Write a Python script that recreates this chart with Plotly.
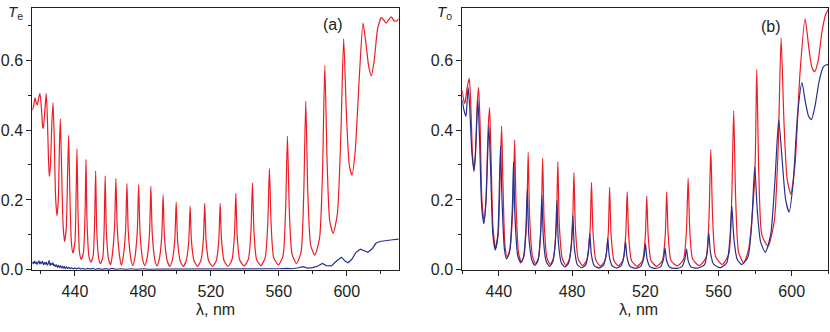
import plotly.graph_objects as go

# ---- panel (a): T_e ----
red_a_lam = [
    414.9, 415.7, 416.5, 417.2, 417.8, 418.6, 419.4, 420.3, 421.0, 421.4, 422.2,
    423.1, 423.8, 424.4, 424.9, 425.6, 426.4,
    427.1, 427.8, 428.6, 429.4, 430.2, 430.9,
    431.4, 432.1, 433.0, 433.9, 434.9, 435.7,
    436.3, 437.0, 437.9, 438.8, 440.0, 440.7,
    441.2, 441.8, 442.7, 443.7, 445.0, 446.0,
    446.5, 447.1, 448.2, 449.4, 450.7, 451.6,
    452.2, 452.8, 453.9, 455.0, 456.4, 457.2,
    457.8, 458.5, 459.8, 461.0, 461.8, 463.3,
    464.1, 464.9, 466.4, 467.4, 468.3, 469.8,
    470.6, 471.4, 472.9, 474.0, 475.2, 476.7,
    477.5, 478.3, 479.8, 481.1, 482.4, 483.9,
    484.7, 485.5, 487.0, 488.3, 489.6, 491.1,
    491.9, 492.7, 494.2, 495.8, 497.3, 498.8,
    499.6, 500.4, 501.9, 503.7, 505.5, 507.0,
    507.8, 508.6, 510.1, 512.1, 514.1, 515.6,
    516.4, 517.2, 518.7, 521.0, 523.2, 524.7,
    525.5, 526.3, 527.8, 530.1, 532.4, 533.9,
    534.7, 535.5, 537.0, 539.6, 542.1, 543.6,
    544.5, 545.4, 546.9, 549.5, 552.0, 553.5,
    554.5, 555.5, 557.0, 559.8, 562.5, 564.0,
    565.1, 566.2, 567.8, 570.4, 573.1, 574.7,
    575.9, 577.1, 578.8, 581.2, 584.0, 585.7,
    587.1, 588.5, 590.0, 592.0, 594.5, 596.5,
    598.2, 599.8, 601.5, 603.1, 605.0, 607.5,
    609.6, 611.5, 613.0, 614.5, 616.2, 618.2,
    620.4, 621.8, 623.2, 624.6, 626.2, 627.8, 629.2, 630.6,
]
red_a_T = [
    0.457, 0.470, 0.492, 0.478, 0.472, 0.490, 0.505, 0.460, 0.410, 0.405, 0.450,
    0.505, 0.430, 0.320, 0.267, 0.300, 0.420,
    0.478, 0.380, 0.210, 0.155, 0.200, 0.360,
    0.432, 0.300, 0.130, 0.081, 0.120, 0.280,
    0.385, 0.220, 0.080, 0.048, 0.080, 0.220,
    0.346, 0.170, 0.050, 0.030, 0.050, 0.170,
    0.316, 0.140, 0.040, 0.022, 0.040, 0.140,
    0.283, 0.120, 0.035, 0.018, 0.035, 0.120,
    0.269, 0.110, 0.030, 0.015, 0.035, 0.120,
    0.261, 0.120, 0.035, 0.013, 0.033, 0.110,
    0.247, 0.110, 0.032, 0.012, 0.032, 0.110,
    0.244, 0.110, 0.031, 0.012, 0.031, 0.105,
    0.239, 0.105, 0.030, 0.011, 0.029, 0.095,
    0.214, 0.095, 0.028, 0.010, 0.027, 0.087,
    0.194, 0.087, 0.026, 0.010, 0.026, 0.082,
    0.182, 0.082, 0.026, 0.010, 0.026, 0.085,
    0.190, 0.085, 0.026, 0.010, 0.026, 0.085,
    0.190, 0.085, 0.026, 0.010, 0.028, 0.098,
    0.218, 0.098, 0.028, 0.011, 0.030, 0.110,
    0.248, 0.110, 0.030, 0.012, 0.035, 0.130,
    0.290, 0.130, 0.035, 0.014, 0.040, 0.170,
    0.383, 0.170, 0.045, 0.018, 0.050, 0.220,
    0.483, 0.220, 0.070, 0.042, 0.090, 0.270,
    0.585, 0.300, 0.140, 0.104, 0.160, 0.380,
    0.662, 0.450, 0.300, 0.271, 0.340, 0.560,
    0.706, 0.640, 0.580, 0.555, 0.600, 0.690,
    0.722, 0.715, 0.706, 0.715, 0.724, 0.713, 0.712, 0.718,
]

blue_a_lam = [
    414.9, 415.5, 416.0, 416.6, 417.1, 417.7, 418.2, 418.8, 419.3, 419.9,
    420.4, 421.0, 421.5, 422.1, 422.6, 423.2, 423.7, 424.3, 424.8, 425.4,
    425.9, 426.5, 427.0, 427.6, 428.1, 428.7, 429.2, 429.8, 430.3, 430.9,
    431.4, 432.0, 432.6, 433.1, 433.7, 434.3, 435.0, 435.7, 436.4, 437.2,
    438.0, 439.0, 440.0, 441.0, 442.2, 443.5, 444.8, 446.0, 447.5, 449.0,
    450.5, 452.0, 454.0, 456.0, 458.0, 460.0, 462.0, 464.0, 467.0, 470.0,
    473.0, 476.0, 480.0, 484.0, 488.0, 492.0, 496.0, 500.0, 505.0, 510.0,
    515.0, 520.0, 525.0, 530.0, 535.0, 540.0, 545.0, 550.0, 555.0, 560.0,
    565.0, 568.0, 571.0, 574.3, 577.0, 580.2, 583.0, 585.7, 588.0, 591.0,
    594.0, 596.9, 599.0, 600.8, 603.0, 605.5, 608.0, 610.0, 612.5, 615.0,
    617.0, 619.4, 622.0, 624.5, 627.0, 629.2, 630.6,
]
blue_a_T = [
    0.022, 0.017, 0.025, 0.018, 0.023, 0.015, 0.021, 0.026, 0.016, 0.022,
    0.019, 0.024, 0.014, 0.020, 0.017, 0.022, 0.013, 0.018, 0.027, 0.012,
    0.019, 0.014, 0.020, 0.011, 0.015, 0.009, 0.013, 0.008, 0.012, 0.007,
    0.011, 0.006, 0.010, 0.005, 0.009, 0.004, 0.008, 0.004, 0.007, 0.003,
    0.006, 0.003, 0.005, 0.002, 0.005, 0.002, 0.004, 0.001, 0.004, 0.002,
    0.004, 0.001, 0.003, 0.001, 0.003, 0.001, 0.004, 0.001, 0.003, 0.001,
    0.003, 0.001, 0.003, 0.001, 0.002, 0.002, 0.001, 0.002, 0.001, 0.002,
    0.001, 0.002, 0.001, 0.002, 0.001, 0.002, 0.002, 0.002, 0.003, 0.003,
    0.004, 0.003, 0.005, 0.009, 0.005, 0.006, 0.011, 0.018, 0.012, 0.011,
    0.025, 0.036, 0.025, 0.020, 0.030, 0.050, 0.059, 0.055, 0.050, 0.060,
    0.075, 0.081, 0.082, 0.083, 0.086, 0.087, 0.088,
]

# ---- panel (b): T_o ----
red_b_lam = [
    420.0, 420.6, 421.4, 422.6,
    423.8, 424.6, 425.4, 426.3, 427.2, 428.1,
    428.9, 429.7, 430.7, 431.8, 432.9, 434.1,
    434.9, 435.7, 436.8, 438.2, 439.6, 440.8,
    441.5, 442.2, 443.3, 444.5, 446.1, 447.8,
    448.6, 449.4, 450.7, 452.2, 453.7, 455.2,
    456.0, 456.8, 458.3, 460.0, 461.7, 463.1,
    463.9, 464.7, 466.2, 468.0, 469.8, 471.4,
    472.2, 473.0, 474.6, 476.6, 478.5, 480.2,
    481.0, 481.8, 483.4, 485.8, 488.0, 489.8,
    490.6, 491.4, 493.0, 495.5, 497.9, 499.7,
    500.5, 501.3, 502.9, 505.3, 507.7, 509.3,
    510.1, 510.9, 512.5, 515.5, 518.4, 520.0,
    520.8, 521.6, 523.2, 526.2, 529.3, 530.9,
    531.7, 532.5, 534.1, 537.5, 540.9, 542.5,
    543.4, 544.3, 545.9, 549.6, 553.2, 554.8,
    555.8, 556.8, 558.4, 562.0, 565.6, 567.2,
    568.3, 569.4, 571.0, 573.8, 576.5, 579.8,
    580.9, 582.0, 583.7, 587.1, 590.5, 592.6,
    594.2, 595.8, 597.5, 599.5, 601.8, 604.5,
    607.3, 609.5, 611.0, 612.6, 614.5, 616.5, 618.5, 620.0,
]
red_b_T = [
    0.513, 0.490, 0.476, 0.520,
    0.548, 0.480, 0.350, 0.281, 0.330, 0.470,
    0.522, 0.420, 0.200, 0.141, 0.200, 0.400,
    0.464, 0.330, 0.120, 0.062, 0.100, 0.300,
    0.411, 0.250, 0.070, 0.036, 0.060, 0.200,
    0.372, 0.180, 0.050, 0.022, 0.040, 0.150,
    0.336, 0.150, 0.040, 0.018, 0.035, 0.140,
    0.320, 0.140, 0.035, 0.015, 0.033, 0.130,
    0.310, 0.130, 0.033, 0.013, 0.030, 0.120,
    0.278, 0.120, 0.030, 0.012, 0.028, 0.110,
    0.250, 0.110, 0.027, 0.011, 0.026, 0.100,
    0.236, 0.100, 0.026, 0.011, 0.026, 0.100,
    0.223, 0.100, 0.026, 0.010, 0.025, 0.095,
    0.211, 0.095, 0.025, 0.010, 0.026, 0.100,
    0.223, 0.100, 0.026, 0.011, 0.030, 0.115,
    0.262, 0.115, 0.030, 0.012, 0.035, 0.150,
    0.344, 0.150, 0.038, 0.015, 0.045, 0.200,
    0.456, 0.200, 0.050, 0.020, 0.060, 0.260,
    0.574, 0.280, 0.100, 0.067, 0.140, 0.350,
    0.664, 0.420, 0.260, 0.216, 0.300, 0.560,
    0.718, 0.630, 0.580, 0.567, 0.600, 0.680, 0.730, 0.746,
]

blue_b_lam = [
    420.0, 420.8, 422.0, 422.6,
    423.2, 424.0, 425.3, 426.5, 427.5,
    428.5, 429.4, 430.6, 431.8, 433.0,
    434.5, 435.4, 436.7, 438.0, 439.4, 440.3,
    440.9, 441.7, 443.0, 444.2, 445.8, 447.3,
    448.0, 448.8, 450.3, 451.9, 453.4, 454.7,
    455.5, 456.3, 457.9, 459.6, 461.3, 462.7,
    463.5, 464.3, 465.8, 467.6, 469.4, 470.9,
    471.7, 472.5, 474.1, 476.1, 478.0, 479.6,
    480.4, 481.2, 482.8, 485.1, 487.4, 488.9,
    489.7, 490.5, 492.1, 494.6, 497.0, 498.7,
    499.5, 500.3, 501.9, 504.3, 506.7, 508.4,
    509.2, 510.0, 511.6, 514.6, 517.5, 519.3,
    520.1, 520.9, 522.5, 525.5, 528.4, 530.0,
    530.8, 531.6, 533.2, 536.6, 540.0, 541.6,
    542.5, 543.4, 545.0, 548.7, 552.3, 553.8,
    554.7, 555.6, 557.3, 561.0, 564.5, 566.2,
    567.3, 568.4, 570.2, 572.6, 576.0, 578.0,
    579.8, 581.2, 583.0, 585.6, 588.5, 590.8,
    592.9, 594.7, 596.7, 598.6, 600.8, 603.3,
    605.6, 607.5, 609.2, 610.8, 612.8, 615.0, 617.2, 619.0, 620.0,
]
blue_b_T = [
    0.485, 0.460, 0.439, 0.480,
    0.522, 0.470, 0.330, 0.285, 0.370,
    0.487, 0.380, 0.180, 0.132, 0.200,
    0.413, 0.300, 0.100, 0.057, 0.100, 0.250,
    0.353, 0.200, 0.060, 0.031, 0.050, 0.170,
    0.309, 0.150, 0.040, 0.020, 0.035, 0.110,
    0.230, 0.100, 0.030, 0.013, 0.025, 0.095,
    0.213, 0.090, 0.025, 0.010, 0.022, 0.085,
    0.199, 0.080, 0.020, 0.008, 0.018, 0.070,
    0.155, 0.065, 0.016, 0.006, 0.014, 0.050,
    0.104, 0.045, 0.012, 0.005, 0.012, 0.045,
    0.090, 0.040, 0.011, 0.005, 0.011, 0.040,
    0.081, 0.036, 0.010, 0.004, 0.010, 0.037,
    0.074, 0.033, 0.009, 0.004, 0.009, 0.032,
    0.062, 0.028, 0.008, 0.004, 0.009, 0.030,
    0.059, 0.027, 0.008, 0.005, 0.014, 0.050,
    0.106, 0.050, 0.016, 0.006, 0.020, 0.085,
    0.183, 0.090, 0.030, 0.015, 0.035, 0.120,
    0.295, 0.170, 0.080, 0.050, 0.100, 0.250,
    0.430, 0.320, 0.200, 0.165, 0.250, 0.450,
    0.536, 0.480, 0.440, 0.430, 0.470, 0.540, 0.580, 0.587, 0.587,
]

RED = "#ee1c25"
BLUE = "#27318b"
INK = "#231f20"
FONT = "Liberation Sans, Arial, sans-serif"

fig = go.Figure()
smooth = dict(shape="spline", smoothing=0.6, width=1.2)
fig.add_trace(go.Scatter(x=red_a_lam, y=red_a_T, mode="lines",
                         line=dict(color=RED, **smooth), xaxis="x", yaxis="y"))
fig.add_trace(go.Scatter(x=blue_a_lam, y=blue_a_T, mode="lines",
                         line=dict(color=BLUE, width=1.2), xaxis="x", yaxis="y"))
fig.add_trace(go.Scatter(x=red_b_lam, y=red_b_T, mode="lines",
                         line=dict(color=RED, **smooth), xaxis="x2", yaxis="y2"))
fig.add_trace(go.Scatter(x=blue_b_lam, y=blue_b_T, mode="lines",
                         line=dict(color=BLUE, **smooth), xaxis="x2", yaxis="y2"))

W, H = 830, 332
ydom = [(H - 277.3) / H, (H - 8) / H]


def xax(dom, rng, anchor):
    return dict(domain=dom, range=rng, anchor=anchor, tick0=0, dtick=40,
                ticks="outside", ticklen=5, tickwidth=1, tickcolor=INK,
                ticklabelstandoff=2,
                minor=dict(dtick=20, ticks="outside", ticklen=3, tickcolor=INK),
                showline=True, linecolor=INK, linewidth=1, mirror=True,
                showgrid=False, zeroline=False,
                tickfont=dict(family=FONT, size=16, color=INK))


def yax(anchor):
    return dict(domain=ydom, range=[0, 0.75], anchor=anchor, tick0=0, dtick=0.2,
                tickformat=".1f", ticks="outside", ticklen=5, tickwidth=1,
                tickcolor=INK,
                minor=dict(dtick=0.1, ticks="outside", ticklen=3, tickcolor=INK),
                showline=True, linecolor=INK, linewidth=1, mirror=True,
                showgrid=False, zeroline=False,
                tickfont=dict(family=FONT, size=16, color=INK))


fig.update_layout(
    width=W, height=H,
    margin=dict(l=0, r=0, t=0, b=0),
    paper_bgcolor="white", plot_bgcolor="white",
    showlegend=False,
    xaxis=xax([32.3 / W, 398.7 / W], [414.9, 630.6], "y"),
    yaxis=yax("x"),
    xaxis2=xax([462.3 / W, 828.3 / W], [420, 620], "y2"),
    yaxis2=yax("x2"),
)


def note(text, px, py, size=16, xanchor="center"):
    fig.add_annotation(text=text, x=px / W, y=(H - py) / H, xref="paper", yref="paper",
                       xanchor=xanchor, yanchor="middle", showarrow=False,
                       font=dict(family=FONT, size=size, color=INK))


note("(a)", 333, 25)
note("(b)", 771, 27)
note("λ, nm", 215, 318)
note("λ, nm", 638, 318)
note("<i>T</i><sub>e</sub>", 6, 13, size=15, xanchor="left")
note("<i>T</i><sub>o</sub>", 435, 13, size=15, xanchor="left")

# page body has an 8px default margin; drop it so the figure sits at 0,0
fig.write_html("out.html",
               config={"displayModeBar": False},
               post_script="document.body.style.margin='0';"
                           "document.body.style.overflow='hidden';")
